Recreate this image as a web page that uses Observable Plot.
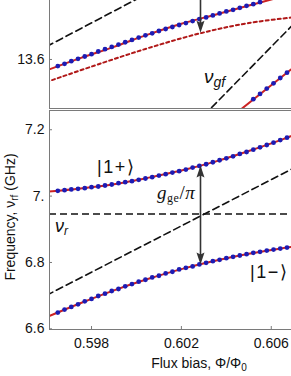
<!DOCTYPE html>
<html><head><meta charset="utf-8">
<script src="https://cdn.jsdelivr.net/npm/d3@7"></script>
<script src="https://cdn.jsdelivr.net/npm/@observablehq/plot@0.6"></script>
<style>
body{margin:0;background:#fff}
#chart{width:291px;height:376px;overflow:hidden;background:#fff}
#chart svg{display:block}
</style>
</head><body><div id="chart"></div>
<script>
// ---------- data ----------
const fluxDomain = [0.59613, 0.6069];
const xTicks = [0.598, 0.602, 0.606];
const yTicksBottom = [6.6, 6.8, 7.0, 7.2];
const yTicksTop = [13.6];
const xLabel = "Flux bias, ";
const nuR = 6.946;

// measured points (blue)
const fluxPts = [0.5965,0.5968,0.5971,0.5974,0.5977,0.5980,0.5983,0.5986,0.5989,0.5992,0.5995,0.5998,0.6001,0.6004,0.6007,0.6010,0.6013,0.6016,0.6019,0.6022,0.6025,0.6028,0.6031,0.6034,0.6037,0.6040,0.6043,0.6046,0.6049,0.6052,0.6055,0.6058,0.6061,0.6064,0.6067];
const upperPts = [7.016,7.018,7.020,7.022,7.024,7.027,7.029,7.032,7.035,7.039,7.042,7.045,7.049,7.053,7.057,7.062,7.066,7.071,7.075,7.080,7.086,7.091,7.096,7.102,7.108,7.114,7.120,7.127,7.133,7.140,7.147,7.154,7.161,7.169,7.176];
const lowerPts = [6.649,6.658,6.666,6.674,6.683,6.690,6.699,6.706,6.714,6.720,6.728,6.735,6.742,6.748,6.755,6.760,6.767,6.772,6.779,6.784,6.788,6.794,6.799,6.804,6.808,6.813,6.817,6.821,6.825,6.829,6.832,6.836,6.839,6.842,6.845];
const topPts = [13.580,13.587,13.595,13.602,13.609,13.616,13.624,13.631,13.638,13.645,13.652,13.659,13.666,13.673,13.679,13.686,13.692,13.698,13.704,13.710,13.716,13.722,13.727,13.733,13.739,13.745,13.750,13.756,13.762,13.767,13.773];
const gfFlux = [0.6052,0.6055,0.6058,0.6061,0.6064,0.6067];
const gfPts = [13.480,13.496,13.512,13.528,13.544,13.560];

// theory curves (red)
const fitFlux = [0.5960,0.5975,0.5990,0.6005,0.6020,0.6035,0.6050,0.6065,0.6075];
const fitUpper = [7.013,7.023,7.036,7.055,7.077,7.104,7.136,7.171,7.198];
const fitLower = [6.635,6.677,6.716,6.750,6.780,6.805,6.826,6.843,6.851];
const fitTop = [13.567,13.604,13.638,13.675,13.708,13.735,13.763,13.790,13.808];
const dotFlux = [0.5960,0.5985,0.6007,0.6029,0.6050,0.6075];
const dotTop = [13.532,13.590,13.638,13.680,13.710,13.731];
const gfLineFlux = [0.6044,0.6075];
const gfLine = [13.436,13.603];

// bare (dashed) lines
const nuqFlux = [0.5960,0.6075];
const nuq = [6.701,7.102];
const topDashFlux = [0.5960,0.6004];
const topDash = [13.639,13.796];
const nugfFlux = [0.6030,0.6075];
const nugf = [13.431,13.742];

// arrows
const arrowFlux = 0.60285;
const arrowUp = 7.092, arrowDown = 6.794;
const topArrow = [13.80, 13.681];

// ---------- style ----------
const BLUE = "#1c1cb4", RED = "#cc2222", DRED = "#b01818", FRAME = "#7a7a7a", ARROW = "#333";
const rows = (xs, ys) => xs.map((f, i) => ({f, v: ys[i]}));
const head = {draw(ctx){ctx.moveTo(0,0);ctx.lineTo(-4,-12);ctx.lineTo(0,-10);ctx.lineTo(4,-12);ctx.closePath();}};

const common = {
  width: 291, marginLeft: 49, marginRight: 0,
  x: {domain: fluxDomain, axis: null},
  style: {fontFamily: "Liberation Sans, Arial, sans-serif", fontSize: "14px", color: "#111", background: "#fff"}
};

// ---------- top panel ----------
const topPlot = Plot.plot({
  ...common, height: 109, marginTop: 0, marginBottom: 1,
  y: {domain: [13.452, 13.778], axis: null},
  marks: [
    Plot.line(rows(topDashFlux, topDash), {x: "f", y: "v", stroke: "#111", strokeWidth: 1.6, strokeDasharray: "7,4", clip: true}),
    Plot.line(rows(nugfFlux, nugf), {x: "f", y: "v", stroke: "#111", strokeWidth: 1.6, strokeDasharray: "7,4", clip: true}),
    Plot.line(rows(dotFlux, dotTop), {x: "f", y: "v", stroke: DRED, strokeWidth: 2, strokeDasharray: "3,3", curve: "catmull-rom", clip: true}),
    Plot.line(rows(fitFlux, fitTop), {x: "f", y: "v", stroke: RED, strokeWidth: 2, curve: "catmull-rom", clip: true}),
    Plot.line(rows(gfLineFlux, gfLine), {x: "f", y: "v", stroke: RED, strokeWidth: 2, clip: true}),
    Plot.dot(rows(fluxPts.slice(0, topPts.length), topPts), {x: "f", y: "v", r: 2.4, fill: BLUE, clip: true}),
    Plot.dot(rows(gfFlux, gfPts), {x: "f", y: "v", r: 2.4, fill: BLUE, clip: true}),
    Plot.ruleX([{f: arrowFlux, a: topArrow[0], b: topArrow[1] + 0.01}], {x: "f", y1: "a", y2: "b", stroke: ARROW, strokeWidth: 1.6, clip: true}),
    Plot.dot([{f: arrowFlux, v: topArrow[1]}], {x: "f", y: "v", symbol: head, fill: ARROW, stroke: "none"}),
    Plot.ruleX([fluxDomain[0]], {stroke: FRAME}),
    Plot.ruleY([13.452], {stroke: FRAME}),
    Plot.axisY(yTicksTop, {tickSize: 0, tickPadding: 5, tickFormat: d => d.toFixed(1), label: null, fontSize: 14, fill: "#111"}),
    Plot.axisY(yTicksTop, {tickSize: 3, dx: 3, tickFormat: () => "", label: null, stroke: FRAME})
  ]
});

// ---------- bottom panel ----------
const bottomPlot = Plot.plot({
  ...common, height: 267, marginTop: 1, marginBottom: 47,
  y: {domain: [6.598, 7.258], axis: null},
  marks: [
    Plot.ruleY([nuR], {stroke: "#111", strokeWidth: 1.6, strokeDasharray: "7,4"}),
    Plot.line(rows(nuqFlux, nuq), {x: "f", y: "v", stroke: "#111", strokeWidth: 1.6, strokeDasharray: "7,4", clip: true}),
    Plot.line(rows(fitFlux, fitUpper), {x: "f", y: "v", stroke: RED, strokeWidth: 2, curve: "catmull-rom", clip: true}),
    Plot.line(rows(fitFlux, fitLower), {x: "f", y: "v", stroke: RED, strokeWidth: 2, curve: "catmull-rom", clip: true}),
    Plot.dot(rows(fluxPts, upperPts), {x: "f", y: "v", r: 2.4, fill: BLUE, clip: true}),
    Plot.dot(rows(fluxPts, lowerPts), {x: "f", y: "v", r: 2.4, fill: BLUE, clip: true}),
    Plot.ruleX([{f: arrowFlux, a: arrowUp - 0.01, b: arrowDown + 0.01}], {x: "f", y1: "a", y2: "b", stroke: ARROW, strokeWidth: 1.6}),
    Plot.dot([{f: arrowFlux, v: arrowUp, r: 180}, {f: arrowFlux, v: arrowDown, r: 0}], {x: "f", y: "v", rotate: "r", symbol: head, fill: ARROW, stroke: "none"}),
    Plot.ruleX([fluxDomain[0]], {stroke: FRAME}),
    Plot.ruleY([6.598, 7.258], {stroke: FRAME}),
    Plot.axisY(yTicksBottom, {tickSize: 0, tickPadding: 5, tickFormat: d => d === 7 ? "7." : d.toFixed(1), label: null, fontSize: 14, fill: "#111"}),
    Plot.axisY(yTicksBottom, {tickSize: 3, dx: 3, tickFormat: () => "", label: null, stroke: FRAME}),
    Plot.axisX(xTicks, {tickSize: 0, tickPadding: 9, tickFormat: d => d.toFixed(3), label: null, fontSize: 14, fill: "#111"}),
    Plot.axisX(xTicks, {tickSize: 3, dy: -3, tickFormat: () => "", label: null, stroke: FRAME})
  ]
});

const chart = document.getElementById("chart");
chart.append(topPlot, bottomPlot);

// ---------- rich text labels ----------
function label(svg, x, y, parts, extra = {}) {
  const t = d3.select(svg).append("text").attr("x", x).attr("y", y)
    .attr("fill", "#111").attr("font-family", "Liberation Sans, Arial, sans-serif")
    .attr("text-anchor", extra.anchor || "start");
  if (extra.transform) t.attr("transform", extra.transform);
  if (extra.ls) t.attr("letter-spacing", extra.ls);
  for (const p of parts) {
    const s = t.append("tspan").text(p.t).attr("font-size", p.s);
    if (p.i) s.attr("font-style", "italic");
    if (p.dy) s.attr("dy", p.dy);
    if (p.f) s.attr("font-family", p.f);
  }
}
const bxs = bottomPlot.scale("x"), bys = bottomPlot.scale("y");
const txs = topPlot.scale("x"), tys = topPlot.scale("y");
const bx = v => bxs.apply(v), by = v => bys.apply(v);
const tx = v => txs.apply(v), ty = v => tys.apply(v);
const serif = "Liberation Serif, Times New Roman, serif";

label(bottomPlot, bx(0.59827), by(7.069), [{t: "|1+\u27E9", s: 18}], {ls: 1.5});
label(bottomPlot, bx(0.60508), by(6.752), [{t: "|1\u2212\u27E9", s: 18}], {ls: 1.5});
label(bottomPlot, bx(0.60094), by(6.990), [
  {t: "g", s: 19, i: true, f: serif}, {t: "ge", s: 12, dy: 3, f: serif},
  {t: "/", s: 19, dy: -3, f: serif}, {t: "\u03C0", s: 19, i: true, f: serif}], {ls: 0.5});
label(bottomPlot, bx(0.59640), by(6.890), [{t: "\u03BD", s: 18, i: true}, {t: "r", s: 12, i: true, dy: 3}]);
label(topPlot, tx(0.60303), ty(13.528), [{t: "\u03BD", s: 19, i: true}, {t: "gf", s: 14, i: true, dy: 4}]);

// axis titles
label(bottomPlot, 199, 259, [{t: xLabel, s: 14}, {t: "\u03A6/\u03A6", s: 14}, {t: "0", s: 10, dy: 3}], {anchor: "middle"});
label(bottomPlot, 0, 0, [{t: "Frequency, \u03BD", s: 14}, {t: "rf", s: 10, dy: 3}, {t: " (GHz)", s: 14, dy: -3}],
  {anchor: "middle", transform: "translate(15,108) rotate(-90)"});
</script>
</body></html>
